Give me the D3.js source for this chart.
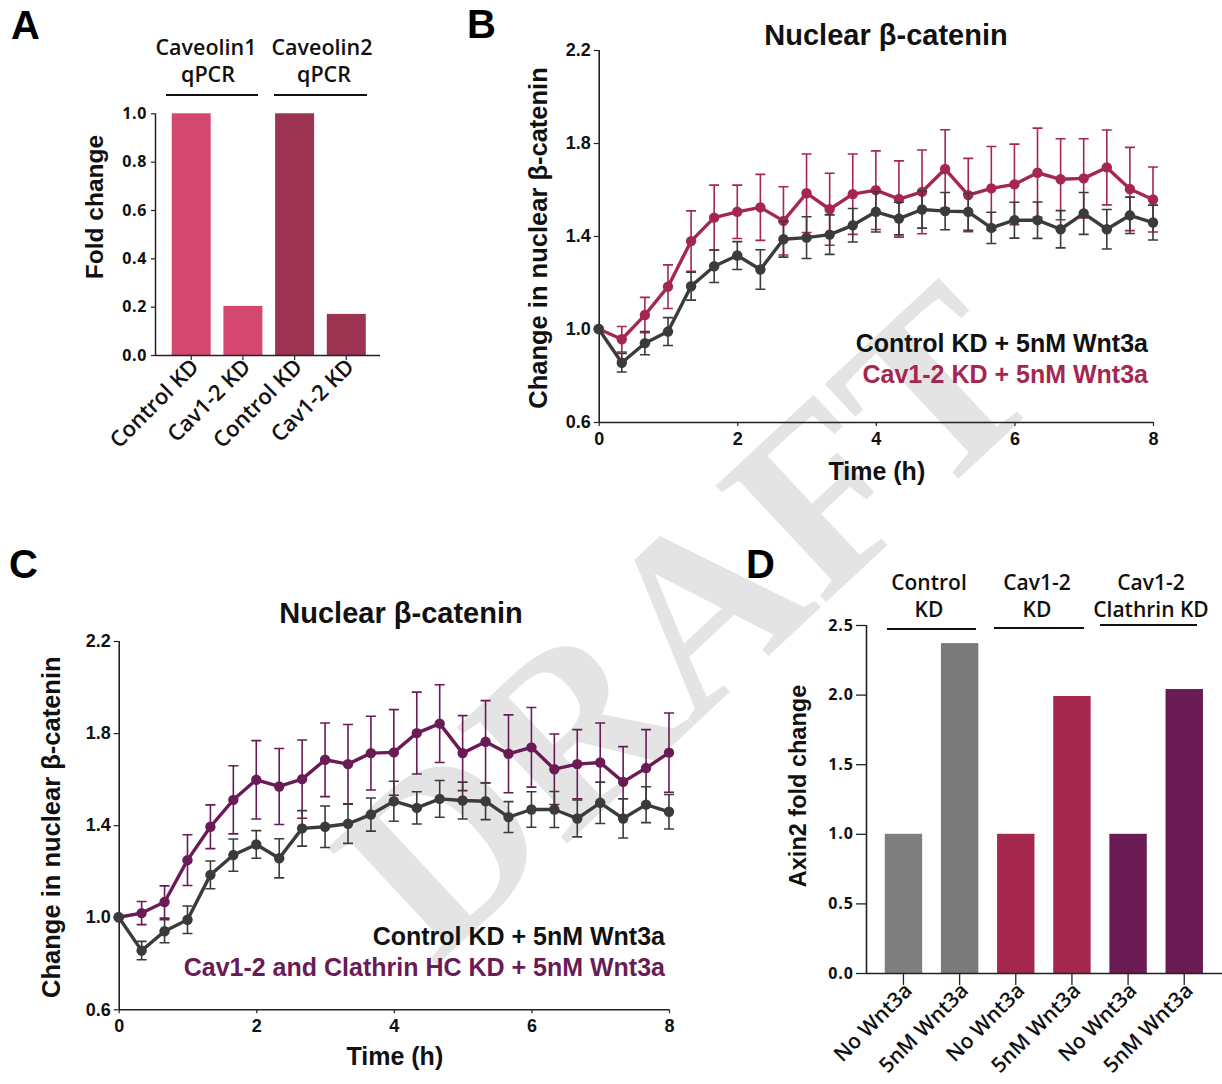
<!DOCTYPE html>
<html><head><meta charset="utf-8">
<script src="https://cdn.jsdelivr.net/npm/d3@7"></script>
<style>body{margin:0;background:#fff}svg{display:block}</style>
</head><body>
<svg id="fig" width="1222" height="1084"></svg>
<script>
// ---------- DATA ----------
// Panel A
const aCategories = ["Control KD", "Cav1-2 KD", "Control KD ", "Cav1-2 KD "];
const aValues = [1.0, 0.203, 1.0, 0.170];
const aGroups = ["Caveolin1 qPCR", "Caveolin2 qPCR"];
const aTicks = [0.0, 0.2, 0.4, 0.6, 0.8, 1.0];

// Panels B & C (time in minutes)
const timeMin = [0,20,40,60,80,100,120,140,160,180,200,220,240,260,280,300,320,340,360,380,400,420,440,460,480];
const controlMean = [1.0,0.855,0.939,0.989,1.184,1.270,1.316,1.256,1.386,1.393,1.406,1.446,1.504,1.475,1.514,1.507,1.504,1.435,1.468,1.468,1.429,1.497,1.429,1.489,1.458];
const controlErr  = [0,0.04,0.05,0.06,0.06,0.07,0.06,0.085,0.077,0.09,0.085,0.072,0.087,0.07,0.08,0.08,0.08,0.067,0.077,0.078,0.08,0.09,0.085,0.078,0.075];
const cavMean = [1.0,0.956,1.060,1.182,1.378,1.479,1.504,1.523,1.465,1.584,1.515,1.580,1.597,1.559,1.590,1.688,1.576,1.605,1.622,1.672,1.644,1.648,1.695,1.602,1.557];
const cavErr  = [0,0.055,0.076,0.094,0.13,0.14,0.115,0.142,0.147,0.169,0.155,0.173,0.169,0.164,0.18,0.169,0.158,0.18,0.173,0.192,0.174,0.17,0.161,0.179,0.14];
const clathMean = [1.0,1.018,1.066,1.248,1.393,1.510,1.597,1.568,1.600,1.684,1.665,1.713,1.716,1.800,1.841,1.713,1.762,1.710,1.738,1.643,1.665,1.672,1.588,1.648,1.715];
const clathErr  = [0,0.05,0.07,0.11,0.095,0.148,0.17,0.165,0.17,0.16,0.172,0.16,0.186,0.178,0.169,0.163,0.179,0.169,0.173,0.153,0.15,0.172,0.153,0.167,0.172];
const lineYTicks = [0.6, 1.0, 1.4, 1.8, 2.2];
const lineXTicks = [0, 2, 4, 6, 8];
const legendB = ["Control KD + 5nM Wnt3a", "Cav1-2 KD + 5nM Wnt3a"];
const legendC = ["Control KD + 5nM Wnt3a", "Cav1-2 and Clathrin HC KD + 5nM Wnt3a"];

// Panel D
const dCategories = ["No Wnt3a", "5nM Wnt3a", "No Wnt3a ", "5nM Wnt3a ", "No Wnt3a  ", "5nM Wnt3a  "];
const dValues = [1.0, 2.37, 1.0, 1.99, 1.0, 2.04];
const dGroups = [["Control", "KD"], ["Cav1-2", "KD"], ["Cav1-2", "Clathrin KD"]];
const dTicks = [0.0, 0.5, 1.0, 1.5, 2.0, 2.5];

// ---------- STYLE ----------
const C_BLACK = "#3b3b3b";
const C_RED = "#a5274f";
const C_PURPLE = "#6a1b55";
const aColors = ["#d4476f", "#d4476f", "#9c3350", "#9c3350"];
const dColors = ["#7f7f7f", "#7a7a7a", "#a6274d", "#a6274d", "#6a1b53", "#6a1b53"];
const F_ARIAL = "'Liberation Sans', Arial, sans-serif";
const F_OPEN = "'Open Sans', sans-serif";

const svg = d3.select("#fig");

// ---------- WATERMARK ----------
svg.append("text")
  .attr("transform", "translate(686,620) rotate(-43)")
  .attr("text-anchor", "middle").attr("dominant-baseline", "central")
  .attr("font-family", "'Liberation Serif', 'DejaVu Serif', serif")
  .attr("font-weight", 700)
  .attr("font-size", 245).attr("fill", "#e4e4e4")
  .text("DRAFT");

// panel letters
[["A", 11, 39], ["B", 467, 38], ["C", 9, 578], ["D", 746, 578]].forEach(([t, x, y]) => {
  svg.append("text").attr("x", x).attr("y", y).attr("font-family", F_ARIAL)
    .attr("font-weight", 700).attr("font-size", 40).attr("fill", "#000").text(t);
});

// ---------- PANEL A ----------
(function () {
  const g = svg.append("g");
  const y = d3.scaleLinear().domain([0, 1]).range([355, 113.3]);
  const x = d3.scaleBand().domain(aCategories).range([159, 378.5]).padding(0.246);
  g.selectAll("rect").data(aValues).join("rect")
    .attr("x", (d, i) => x(aCategories[i])).attr("width", x.bandwidth())
    .attr("y", d => y(d)).attr("height", d => y(0) - y(d))
    .attr("fill", (d, i) => aColors[i]);
  const ya = g.append("g").attr("transform", "translate(155,0)")
    .call(d3.axisLeft(y).tickValues(aTicks).tickFormat(d3.format(".1f")).tickSize(4).tickPadding(4));
  ya.select(".domain").attr("stroke", "#222").attr("stroke-width", 1.5).attr("d", `M0.5,${y(1)}V${y(0)}`);
  ya.selectAll(".tick line").attr("stroke", "#222").attr("stroke-width", 1.2);
  ya.selectAll("text").attr("font-family", F_OPEN).attr("font-weight", 700).attr("font-size", 16)
    .attr("letter-spacing", 0.6).attr("fill", "#111");
  const xa = g.append("g").attr("transform", "translate(0,355)")
    .call(d3.axisBottom(x).tickSize(5).tickFormat(""));
  xa.select(".domain").attr("d", "M155,0.5H380").attr("stroke", "#222").attr("stroke-width", 1.5);
  xa.selectAll(".tick line").attr("stroke", "#222").attr("stroke-width", 1.2);
  aCategories.forEach(c => {
    g.append("text").attr("transform", `translate(${x(c) + x.bandwidth() / 2 + 9},368) rotate(-45)`)
      .attr("text-anchor", "end").attr("font-family", F_OPEN).attr("font-weight", 600)
      .attr("font-size", 22).attr("fill", "#111").text(c.trim());
  });
  const spans = [[166, 258], [274, 367]];
  const headCx = [206, 322];
  aGroups.forEach((grp, i) => {
    const [s, e] = spans[i];
    const parts = grp.split(" ");
    g.append("text").attr("x", headCx[i]).attr("y", 55).attr("text-anchor", "middle")
      .attr("font-family", F_OPEN).attr("font-weight", 600).attr("font-size", 21.5).attr("fill", "#111").text(parts[0]);
    g.append("text").attr("x", headCx[i] + 2).attr("y", 82).attr("text-anchor", "middle")
      .attr("font-family", F_OPEN).attr("font-weight", 600).attr("font-size", 21.5).attr("fill", "#111").text(parts[1]);
    g.append("line").attr("x1", s).attr("x2", e).attr("y1", 95).attr("y2", 95)
      .attr("stroke", "#111").attr("stroke-width", 2);
  });
  g.append("text").attr("transform", "translate(103,207) rotate(-90)").attr("text-anchor", "middle")
    .attr("font-family", F_ARIAL).attr("font-weight", 700).attr("font-size", 24.5).attr("fill", "#111")
    .text("Fold change");
})();

// ---------- LINE PANELS ----------
function linePanel(cfg) {
  const g = svg.append("g");
  const x = d3.scaleLinear().domain([0, 8]).range([cfg.x0, cfg.x1]);
  const y = d3.scaleLinear().domain([0.6, 2.2]).range([cfg.y0, cfg.y1]);
  const t = timeMin.map(m => m / 60);
  const ya = g.append("g").attr("transform", `translate(${cfg.x0},0)`)
    .call(d3.axisLeft(y).tickValues(lineYTicks).tickFormat(d3.format(".1f")).tickSize(5).tickPadding(3));
  const xa = g.append("g").attr("transform", `translate(0,${cfg.y0})`)
    .call(d3.axisBottom(x).tickValues(lineXTicks).tickFormat(d3.format("d")).tickSize(4).tickPadding(6));
  [ya, xa].forEach(a => {
    a.select(".domain").attr("stroke", "#222").attr("stroke-width", 1.6);
    a.selectAll(".tick line").attr("stroke", "#222").attr("stroke-width", 1.2);
    a.selectAll("text").attr("font-family", F_ARIAL).attr("font-weight", 700).attr("font-size", 18).attr("fill", "#111");
  });
  ya.select(".domain").attr("d", `M0.5,${cfg.y1}V${cfg.y0}`);
  xa.select(".domain").attr("d", `M${cfg.x0},0.5H${cfg.x1}`);

  function series(mean, err, color) {
    const s = g.append("g");
    const cap = 5;
    mean.forEach((m, i) => {
      if (err[i] <= 0) return;
      const cx = x(t[i]);
      const yt = y(m + err[i]), yb = y(m - err[i]);
      s.append("path").attr("d", `M${cx},${yt}V${yb}M${cx - cap},${yt}H${cx + cap}M${cx - cap},${yb}H${cx + cap}`)
        .attr("stroke", color).attr("stroke-width", 1.6).attr("fill", "none");
    });
    s.append("path").datum(mean)
      .attr("d", d3.line().x((d, i) => x(t[i])).y(d => y(d)))
      .attr("stroke", color).attr("stroke-width", 3.4).attr("fill", "none").attr("stroke-linejoin", "round");
    s.selectAll("circle").data(mean).join("circle")
      .attr("cx", (d, i) => x(t[i])).attr("cy", d => y(d)).attr("r", 5.2).attr("fill", color);
  }
  series(cfg.mean2, cfg.err2, cfg.color2);
  series(controlMean, controlErr, C_BLACK);

  g.append("text").attr("x", cfg.titleX).attr("y", cfg.titleY).attr("text-anchor", "middle")
    .attr("font-family", F_ARIAL).attr("font-weight", 700).attr("font-size", 29).attr("fill", "#111")
    .text("Nuclear β-catenin");
  g.append("text").attr("transform", `translate(${cfg.ylabX},${(cfg.y0 + cfg.y1) / 2 + 2}) rotate(-90)`)
    .attr("text-anchor", "middle").attr("dominant-baseline", "central")
    .attr("font-family", F_ARIAL).attr("font-weight", 700).attr("font-size", 25.5).attr("fill", "#111")
    .text("Change in nuclear β-catenin");
  g.append("text").attr("x", (cfg.x0 + cfg.x1) / 2 + 1).attr("y", cfg.xlabY).attr("text-anchor", "middle")
    .attr("font-family", F_ARIAL).attr("font-weight", 700).attr("font-size", 25).attr("fill", "#111")
    .text("Time (h)");
  cfg.legend.forEach((txt, i) => {
    g.append("text").attr("x", cfg.legX).attr("y", cfg.legY + i * 31).attr("text-anchor", "end")
      .attr("font-family", F_ARIAL).attr("font-weight", 700).attr("font-size", 25)
      .attr("fill", i === 0 ? "#111" : cfg.color2).text(txt);
  });
}

linePanel({ x0: 598.7, x1: 1153, y0: 422, y1: 50, mean2: cavMean, err2: cavErr, color2: C_RED,
  titleX: 886, titleY: 45, ylabX: 538, xlabY: 480, legend: legendB, legX: 1148, legY: 352 });
linePanel({ x0: 118.7, x1: 669, y0: 1009.3, y1: 641, mean2: clathMean, err2: clathErr, color2: C_PURPLE,
  titleX: 401, titleY: 623, ylabX: 51, xlabY: 1065, legend: legendC, legX: 665, legY: 945 });

// ---------- PANEL D ----------
(function () {
  const g = svg.append("g");
  const y = d3.scaleLinear().domain([0, 2.5]).range([973, 625]);
  const x = d3.scaleBand().domain(dCategories).range([866, 1221.7]).padding(0.334);
  g.selectAll("rect").data(dValues).join("rect")
    .attr("x", (d, i) => x(dCategories[i])).attr("width", x.bandwidth())
    .attr("y", d => y(d)).attr("height", d => y(0) - y(d))
    .attr("fill", (d, i) => dColors[i]);
  const ya = g.append("g").attr("transform", "translate(866,0)")
    .call(d3.axisLeft(y).tickValues(dTicks).tickFormat(d3.format(".1f")).tickSize(10).tickPadding(2));
  ya.select(".domain").attr("d", `M0.5,${y(2.5)}V${y(0)}`).attr("stroke", "#222").attr("stroke-width", 1.6);
  ya.selectAll(".tick line").attr("stroke", "#222").attr("stroke-width", 1.3);
  ya.selectAll("text").attr("font-family", F_OPEN).attr("font-weight", 700).attr("font-size", 16)
    .attr("letter-spacing", 1).attr("fill", "#111");
  const xa = g.append("g").attr("transform", "translate(0,973)")
    .call(d3.axisBottom(x).tickSize(12).tickFormat(""));
  xa.select(".domain").attr("d", "M866,0.5H1222").attr("stroke", "#222").attr("stroke-width", 1.6);
  xa.selectAll(".tick line").attr("stroke", "#222").attr("stroke-width", 1.3);
  dCategories.forEach(c => {
    g.append("text").attr("transform", `translate(${x(c) + x.bandwidth() / 2 + 10},992) rotate(-45)`)
      .attr("text-anchor", "end").attr("font-family", F_OPEN).attr("font-weight", 600)
      .attr("font-size", 21).attr("fill", "#111").text(c.trim());
  });
  const spans = [[887, 976], [994, 1084], [1100, 1197]];
  const headCx = [929, 1037, 1151];
  const lineY = [629, 628, 625];
  dGroups.forEach((grp, i) => {
    g.append("text").attr("x", headCx[i]).attr("y", 590).attr("text-anchor", "middle")
      .attr("font-family", F_OPEN).attr("font-weight", 600).attr("font-size", 21).attr("fill", "#111").text(grp[0]);
    g.append("text").attr("x", headCx[i]).attr("y", 617).attr("text-anchor", "middle")
      .attr("font-family", F_OPEN).attr("font-weight", 600).attr("font-size", 21).attr("fill", "#111").text(grp[1]);
    g.append("line").attr("x1", spans[i][0]).attr("x2", spans[i][1]).attr("y1", lineY[i]).attr("y2", lineY[i])
      .attr("stroke", "#111").attr("stroke-width", 2);
  });
  g.append("text").attr("transform", "translate(806,786) rotate(-90)").attr("text-anchor", "middle")
    .attr("font-family", F_ARIAL).attr("font-weight", 700).attr("font-size", 23.5).attr("fill", "#111")
    .text("Axin2 fold change");
})();
</script>
</body></html>
